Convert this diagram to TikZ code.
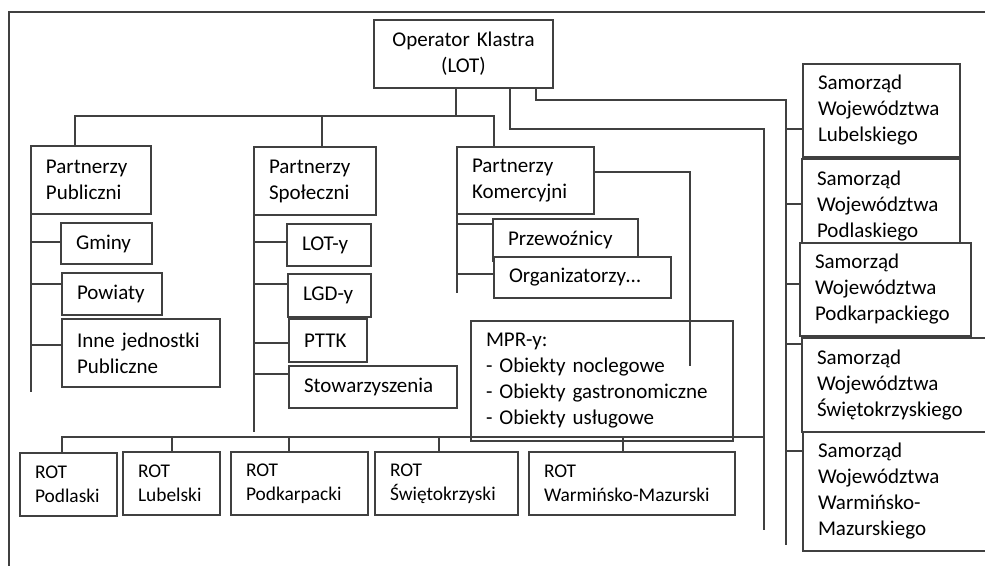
\documentclass[tikz,border=0pt]{standalone}
\usepackage{fontspec}
\setmainfont{Carlito}
\usepackage{xcolor}
\definecolor{linegray}{RGB}{64,64,64}

\begin{document}
\begin{tikzpicture}[x=0.5pt,y=-0.5pt,
  every node/.style={font=\fontsize{10.5}{13}\selectfont},
  box/.style={draw=linegray, line width=0.8pt, fill=white, anchor=north west,
    align=left, inner xsep=7.5pt, inner ysep=0pt, outer sep=0pt},
  rot/.style={box, font=\fontsize{9.7}{12}\selectfont},
  link/.style={draw=linegray, line width=0.8pt}]
\useasboundingbox (0,0) rectangle (985,566);
\draw[link] (9,566) -- (9,12) -- (985,12);

\node[box, align=center, text width=74.5pt, minimum height=34pt] (op) at (374,20) {Operator Klastra\\(LOT)};

\node[box, text width=45pt, minimum height=34pt] (pp) at (31,146) {Partnerzy\\Publiczni};
\node[box, text width=46pt, minimum height=34pt] (ps) at (254,147) {Partnerzy\\Społeczni};
\node[box, text width=53.5pt, minimum height=33.5pt] (pk) at (457,147) {Partnerzy\\Komercyjni};

\node[box, text width=30.5pt, minimum height=20.5pt] (gm) at (61,223) {Gminy};
\node[box, text width=35pt, minimum height=21pt] (pw) at (62,273) {Powiaty};
\node[box, text width=64pt, minimum height=34pt] (ij) at (62,319) {Inne jednostki\\Publiczne};

\node[box, text width=27pt, minimum height=21pt] (lt) at (287,224) {LOT-y};
\node[box, text width=26.5pt, minimum height=21.5pt] (lg) at (288,274) {LGD-y};
\node[box, text width=24pt, minimum height=21.5pt] (pt) at (289,319) {PTTK};
\node[box, text width=69pt, minimum height=21pt] (st) at (289,366) {Stowarzyszenia};

\node[box, text width=57.5pt, minimum height=21pt] (pr) at (493,219) {Przewoźnicy};
\node[box, text width=73.5pt, minimum height=20.5pt] (og) at (494,257) {Organizatorzy…};

\node[box, fill=none, text width=116pt, minimum height=60pt] (mpr) at (471,321)
  {MPR-y:\\- Obiekty noclegowe\\- Obiekty gastronomiczne\\- Obiekty usługowe};

\node[box, text width=63.5pt, minimum height=46.5pt] (sl) at (803,64) {Samorząd\\Województwa\\Lubelskiego};
\node[box, text width=64pt, minimum height=47.5pt] (sp) at (802,159) {Samorząd\\Województwa\\Podlaskiego};
\node[box, text width=70.5pt, minimum height=46.5pt] (sk) at (800,243) {Samorząd\\Województwa\\Podkarpackiego};
\node[box, text width=84pt, minimum height=47pt] (ss) at (802,338) {Samorząd\\Województwa\\Świętokrzyskiego};
\node[box, text width=84pt, minimum height=59.5pt] (sw) at (803,432) {Samorząd\\Województwa\\Warmińsko-\\Mazurskiego};

\node[rot, text width=33.5pt, minimum height=31.5pt] (r1) at (20,453) {ROT\\Podlaski};
\node[rot, text width=33.5pt, minimum height=31.5pt] (r2) at (123,452) {ROT\\Lubelski};
\node[rot, text width=53.5pt, minimum height=31.5pt] (r3) at (231,452) {ROT\\Podkarpacki};
\node[rot, text width=56.5pt, minimum height=31.5pt] (r4) at (375,452) {ROT\\Świętokrzyski};
\node[rot, text width=88pt, minimum height=31.5pt] (r5) at (529,452) {ROT\\Warmińsko-Mazurski};

\coordinate (hub) at (456,116);
\coordinate (ra) at (764,129);
\coordinate (rb) at (764,530);
\coordinate (rbus) at (764,437);
\coordinate (sa) at (786,100);
\coordinate (sb) at (786,545);
\coordinate (mpin) at (690,366);

\draw[link] (hub |- op.south) -- (hub);
\draw[link] (hub) -| ([xshift=22pt]pp.north west);
\draw[link] (hub) -| ([xshift=34pt]ps.north west);
\draw[link] (hub) -| ([xshift=18.5pt]pk.north west);
\draw[link] ([xshift=68pt]op.south west) |- (ra) -- (rb);
\draw[link] ([xshift=81pt]op.south west) |- (sa) -- (sb);

\draw[link] (pp.south west) -- ++(0,178);
\draw[link] (ps.south west) -- ++(0,217);
\draw[link] (pk.south west) -- ++(0,79);
\foreach \n/\d/\t in {gm/9.5/pp, pw/5.5/pp, ij/13/pp, lt/9/ps, lg/5/ps, pt/12/ps, st/4/ps, pr/2.5/pk, og/8.5/pk}
  \draw[link] ([yshift=-\d pt]\n.north west) coordinate (t) -- (t -| \t.south west);
\foreach \n/\d in {sl/32.5, sp/22.5, sk/20.5, ss/3, sw/9.5}
  \draw[link] ([yshift=-\d pt]\n.north west) coordinate (t) -- (t -| sa);

\draw[link] ([yshift=-12.5pt]pk.north east) -| (mpin);
\foreach \n/\d in {r1/21, r2/24.5, r3/29, r4/32, r5/47}
  \draw[link] (rbus) -| ([xshift=\d pt]\n.north west);
\end{tikzpicture}
\end{document}
